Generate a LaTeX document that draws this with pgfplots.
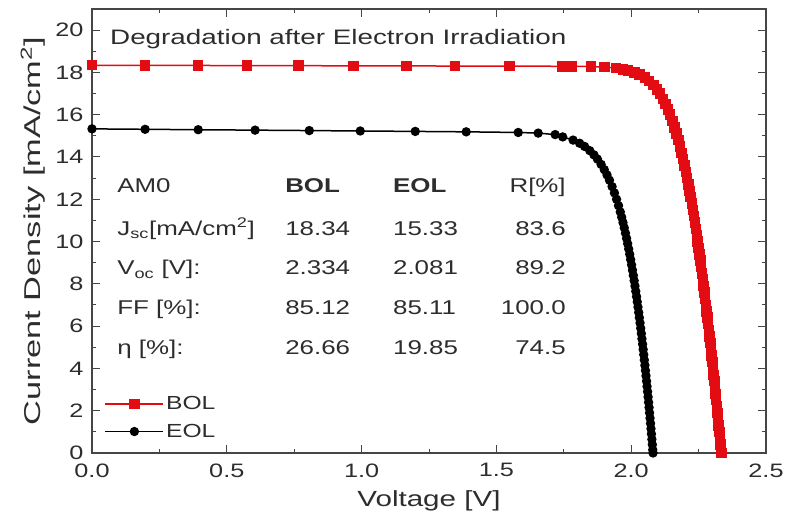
\documentclass[border=0pt]{standalone}
\usepackage{fontspec}
\setmainfont{Liberation Sans}
\usepackage{pgfplots}
\pgfplotsset{compat=1.18}
\usepackage{pgfplotstable}
\definecolor{bolred}{RGB}{226,12,18}
\definecolor{txt}{RGB}{45,45,45}
\definecolor{axgray}{RGB}{70,70,70}

\pgfplotstableread{
V J
0.000 18.34
0.197 18.33
0.394 18.33
0.575 18.32
0.766 18.32
0.970 18.31
1.167 18.31
1.347 18.30
1.548 18.30
1.743 18.29
1.780 18.29
1.850 18.28
1.9018 18.25
1.9444 18.20
1.9694 18.15
1.9872 18.10
2.0124 18.00
2.0304 17.90
2.0505 17.75
2.0658 17.60
2.0820 17.40
2.0950 17.20
2.1060 17.00
2.1178 16.75
2.1279 16.50
2.1368 16.25
2.1448 16.00
2.1535 15.70
2.1614 15.40
2.1686 15.10
2.1752 14.80
2.1814 14.50
2.1872 14.20
2.1927 13.90
2.1979 13.60
2.2029 13.30
2.2076 13.00
2.2121 12.70
2.2165 12.40
2.2207 12.10
2.2248 11.80
2.2287 11.50
2.2325 11.20
2.2362 10.90
2.2398 10.60
2.2433 10.30
2.2467 10.00
2.2501 9.70
2.2533 9.40
2.2565 9.10
2.2597 8.80
2.2627 8.50
2.2657 8.20
2.2687 7.90
2.2716 7.60
2.2745 7.30
2.2773 7.00
2.2800 6.70
2.2828 6.40
2.2855 6.10
2.2881 5.80
2.2907 5.50
2.2933 5.20
2.2959 4.90
2.2984 4.60
2.3009 4.30
2.3034 4.00
2.3058 3.70
2.3082 3.40
2.3106 3.10
2.3129 2.80
2.3153 2.50
2.3176 2.20
2.3199 1.90
2.3222 1.60
2.3244 1.30
2.3267 1.00
2.3289 0.70
2.3311 0.40
2.3333 0.10
2.3340 0.00
}\bol

\pgfplotstableread{
V J
0.000 15.33
0.197 15.31
0.394 15.29
0.605 15.27
0.806 15.25
0.995 15.23
1.199 15.21
1.388 15.19
1.581 15.16
1.655 15.13
1.718 15.06
1.746 14.95
1.7844 14.80
1.8087 14.65
1.8271 14.50
1.8464 14.30
1.8619 14.10
1.8748 13.90
1.8885 13.65
1.9002 13.40
1.9103 13.15
1.9194 12.90
1.9291 12.60
1.9378 12.30
1.9457 12.00
1.9529 11.70
1.9596 11.40
1.9647 11.15
1.9696 10.90
1.9743 10.65
1.9787 10.40
1.9829 10.15
1.9869 9.90
1.9907 9.65
1.9945 9.40
1.9980 9.15
2.0014 8.90
2.0047 8.65
2.0079 8.40
2.0110 8.15
2.0140 7.90
2.0169 7.65
2.0198 7.40
2.0225 7.15
2.0252 6.90
2.0278 6.65
2.0303 6.40
2.0328 6.15
2.0353 5.90
2.0376 5.65
2.0399 5.40
2.0422 5.15
2.0444 4.90
2.0466 4.65
2.0487 4.40
2.0508 4.15
2.0529 3.90
2.0549 3.65
2.0569 3.40
2.0588 3.15
2.0608 2.90
2.0627 2.65
2.0645 2.40
2.0663 2.15
2.0681 1.90
2.0699 1.65
2.0717 1.40
2.0734 1.15
2.0751 0.90
2.0767 0.65
2.0784 0.40
2.0800 0.15
2.0810 0.00
}\eol

\newcommand{\sx}[1]{\scalebox{1.3}[1]{#1}}

\begin{document}
\begin{tikzpicture}
\path[use as bounding box] (-92bp,-71bp) rectangle (704bp,453bp);
\begin{axis}[
  scale only axis,
  width=674bp, height=444bp,
  xmin=0, xmax=2.5, ymin=0, ymax=21,
  xtick={0,0.5,...,2.5}, ytick={0,2,...,20},
  minor x tick num=1, minor y tick num=1,
  major tick length=8bp, minor tick length=4bp,
  tick align=inside,
  axis line style={axgray, line width=1.1bp},
  every tick/.style={axgray, line width=1bp},
  tick label style={font=\fontsize{19.5}{22}\selectfont, text=txt},
  /pgf/number format/assume math mode=true,
  yticklabel style={xscale=1.3, xshift=-3bp},
  xticklabel style={xscale=1.3, yshift=-7bp, /pgf/number format/.cd, fixed, fixed zerofill, precision=1},
  xlabel={Voltage [V]},
  ylabel={Current Density [mA/cm$^{\mathrm{2}}$]},
  xlabel style={font=\fontsize{22}{26}\selectfont, text=txt, xscale=1.35},
  ylabel style={font=\fontsize{23}{27}\selectfont, text=txt, xscale=1.5},
  xlabel shift=7bp,
  ylabel shift=2bp,
  legend style={at={(axis cs:0.035,1.67)}, anchor=west, draw=none, fill=none,
    font=\fontsize{19}{22}\selectfont, text=txt, row sep=9bp},
  legend cell align=left,
  legend image code/.code={\draw[mark repeat=2,mark phase=2,#1] plot coordinates {(0bp,0bp) (29bp,0bp) (58bp,0bp)};},
  clip=false,
]
\addplot[bolred, line width=1.5bp, mark=square*, mark size=4.5bp, mark options={solid, fill=bolred, draw=bolred}] table[x=V,y=J] {\bol};
\addlegendentry{\sx{BOL}}
\addplot[black, line width=1.5bp, mark=*, mark size=3.9bp, mark options={solid, fill=black}] table[x=V,y=J] {\eol};
\addlegendentry{\sx{EOL}}

\node[anchor=west, text=txt, font=\fontsize{21}{25}\selectfont, xscale=1.33] at (axis cs:0.05,19.6) {Degradation after Electron Irradiation};

\begin{scope}[every node/.style={text=txt, font=\fontsize{20}{24}\selectfont, inner sep=0pt, xscale=1.3}]
\node[anchor=base west] at (axis cs:0.093,12.30) {AM0};
\node[anchor=base west] at (axis cs:0.716,12.30) {\bfseries BOL};
\node[anchor=base west] at (axis cs:1.116,12.30) {\bfseries EOL};
\node[anchor=base east] at (axis cs:1.758,12.30) {R[\%]};
\node[anchor=base west] at (axis cs:0.093,10.31) {J$_{\mathrm{sc}}$[mA/cm$^{\mathrm{2}}$]};
\node[anchor=base west] at (axis cs:0.716,10.31) {18.34};
\node[anchor=base west] at (axis cs:1.116,10.31) {15.33};
\node[anchor=base east] at (axis cs:1.758,10.31) {83.6};
\node[anchor=base west] at (axis cs:0.093,8.42) {V$_{\mathrm{oc}}$ [V]:};
\node[anchor=base west] at (axis cs:0.716,8.42) {2.334};
\node[anchor=base west] at (axis cs:1.116,8.42) {2.081};
\node[anchor=base east] at (axis cs:1.758,8.42) {89.2};
\node[anchor=base west] at (axis cs:0.093,6.53) {FF [\%]:};
\node[anchor=base west] at (axis cs:0.716,6.53) {85.12};
\node[anchor=base west] at (axis cs:1.116,6.53) {85.11};
\node[anchor=base east] at (axis cs:1.758,6.53) {100.0};
\node[anchor=base west] at (axis cs:0.093,4.64) {η [\%]:};
\node[anchor=base west] at (axis cs:0.716,4.64) {26.66};
\node[anchor=base west] at (axis cs:1.116,4.64) {19.85};
\node[anchor=base east] at (axis cs:1.758,4.64) {74.5};
\end{scope}
\end{axis}
\end{tikzpicture}
\end{document}
